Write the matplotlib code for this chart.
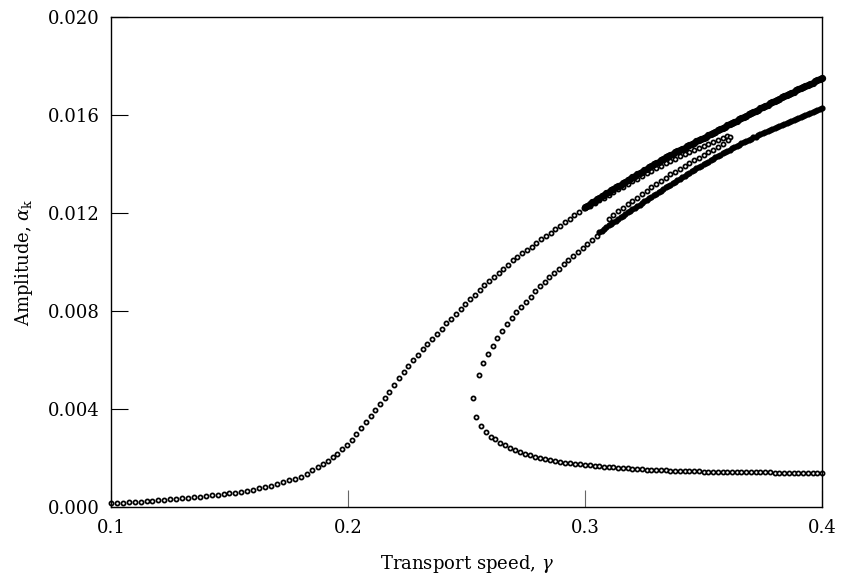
import matplotlib
matplotlib.use("Agg")
import matplotlib.pyplot as plt
from matplotlib.ticker import FixedLocator, FormatStrFormatter

plt.rcParams['font.family'] = ['DejaVu Serif']
plt.rcParams['mathtext.fontset'] = 'dejavuserif'

# ---- data ----
# main (sigmoid) branch, open circles
main_gamma = [0.1000, 0.1025, 0.1050, 0.1075, 0.1100, 0.1125, 0.1150, 0.1175, 0.1200, 0.1225,
              0.1250, 0.1275, 0.1300, 0.1325, 0.1350, 0.1375, 0.1400, 0.1425, 0.1450, 0.1475,
              0.1500, 0.1525, 0.1550, 0.1575, 0.1600, 0.1625, 0.1650, 0.1675, 0.1700, 0.1725,
              0.1750, 0.1775, 0.1800, 0.1825, 0.1850, 0.1875, 0.1895, 0.1915, 0.1935, 0.1955,
              0.1975, 0.1995, 0.2015, 0.2035, 0.2055, 0.2075, 0.2095, 0.2115, 0.2135, 0.2155,
              0.2175, 0.2195, 0.2215, 0.2235, 0.2255, 0.2275, 0.2295, 0.2315, 0.2335, 0.2355,
              0.2375, 0.2395, 0.2415, 0.2435, 0.2455, 0.2475, 0.2495, 0.2515, 0.2535, 0.2555,
              0.2575, 0.2595, 0.2615, 0.2635, 0.2655, 0.2675, 0.2695, 0.2715, 0.2735, 0.2755,
              0.2775, 0.2795, 0.2815, 0.2835, 0.2855, 0.2875, 0.2895, 0.2915, 0.2935, 0.2955,
              0.2975, 0.2995]
main_amp = [0.00014, 0.00015, 0.00017, 0.00018, 0.00020, 0.00021, 0.00023, 0.00025, 0.00026, 0.00028,
            0.00030, 0.00032, 0.00034, 0.00036, 0.00038, 0.00040, 0.00043, 0.00046, 0.00049, 0.00052,
            0.00055, 0.00058, 0.00062, 0.00066, 0.00070, 0.00075, 0.00080, 0.00086, 0.00093, 0.00100,
            0.00108, 0.00115, 0.00123, 0.00135, 0.00148, 0.00163, 0.00173, 0.00187, 0.00202, 0.00217,
            0.00234, 0.00254, 0.00274, 0.00297, 0.00320, 0.00345, 0.00370, 0.00395, 0.00420, 0.00445,
            0.00470, 0.00496, 0.00525, 0.00549, 0.00573, 0.00597, 0.00621, 0.00645, 0.00666, 0.00686,
            0.00707, 0.00727, 0.00748, 0.00768, 0.00787, 0.00807, 0.00827, 0.00847, 0.00866, 0.00886,
            0.00903, 0.00920, 0.00937, 0.00954, 0.00971, 0.00988, 0.01005, 0.01020, 0.01034, 0.01048,
            0.01062, 0.01077, 0.01091, 0.01105, 0.01119, 0.01133, 0.01147, 0.01162, 0.01176, 0.01190,
            0.01204, 0.01218]

# upper dense band (0.300 .. 0.400)
upper_band_gamma = [0.300, 0.301, 0.302, 0.303, 0.304, 0.305, 0.306, 0.307, 0.308, 0.309,
                    0.310, 0.311, 0.312, 0.313, 0.314, 0.315, 0.316, 0.317, 0.318, 0.319,
                    0.320, 0.321, 0.322, 0.323, 0.324, 0.325, 0.326, 0.327, 0.328, 0.329,
                    0.330, 0.331, 0.332, 0.333, 0.334, 0.335, 0.336, 0.337, 0.338, 0.339,
                    0.340, 0.341, 0.342, 0.343, 0.344, 0.345, 0.346, 0.347, 0.348, 0.349,
                    0.350, 0.351, 0.352, 0.353, 0.354, 0.355, 0.356, 0.357, 0.358, 0.359,
                    0.360, 0.361, 0.362, 0.363, 0.364, 0.365, 0.366, 0.367, 0.368, 0.369,
                    0.370, 0.371, 0.372, 0.373, 0.374, 0.375, 0.376, 0.377, 0.378, 0.379,
                    0.380, 0.381, 0.382, 0.383, 0.384, 0.385, 0.386, 0.387, 0.388, 0.389,
                    0.390, 0.391, 0.392, 0.393, 0.394, 0.395, 0.396, 0.397, 0.398, 0.399,
                    0.400]
upper_band_amp = [0.01222, 0.01229, 0.01235, 0.01242, 0.01248, 0.01255, 0.01261, 0.01267, 0.01273, 0.01279,
                  0.01285, 0.01291, 0.01297, 0.01303, 0.01309, 0.01315, 0.01321, 0.01327, 0.01332, 0.01338,
                  0.01344, 0.01350, 0.01356, 0.01362, 0.01368, 0.01374, 0.01380, 0.01385, 0.01391, 0.01397,
                  0.01403, 0.01409, 0.01415, 0.01420, 0.01426, 0.01431, 0.01436, 0.01441, 0.01446, 0.01451,
                  0.01456, 0.01461, 0.01466, 0.01471, 0.01476, 0.01481, 0.01486, 0.01491, 0.01496, 0.01501,
                  0.01506, 0.01511, 0.01516, 0.01521, 0.01526, 0.01531, 0.01536, 0.01541, 0.01546, 0.01551,
                  0.01556, 0.01561, 0.01566, 0.01571, 0.01576, 0.01581, 0.01586, 0.01591, 0.01596, 0.01601,
                  0.01606, 0.01611, 0.01616, 0.01621, 0.01626, 0.01631, 0.01636, 0.01641, 0.01646, 0.01651,
                  0.01656, 0.01661, 0.01666, 0.01671, 0.01676, 0.01681, 0.01685, 0.01690, 0.01694, 0.01699,
                  0.01704, 0.01708, 0.01713, 0.01718, 0.01722, 0.01727, 0.01731, 0.01736, 0.01741, 0.01745,
                  0.01750]

# narrow loop ending near gamma = 0.36 (open circles)
loop_gamma = [0.300, 0.302, 0.304, 0.306, 0.308, 0.310, 0.312, 0.314, 0.316, 0.318,
              0.320, 0.322, 0.324, 0.326, 0.328, 0.330, 0.332, 0.334, 0.336, 0.338,
              0.340, 0.342, 0.344, 0.346, 0.348, 0.350, 0.352, 0.354, 0.356, 0.358,
              0.360, 0.3612, 0.3605, 0.358, 0.356, 0.354, 0.352, 0.350, 0.348, 0.346,
              0.344, 0.342, 0.340, 0.338, 0.336, 0.334, 0.332, 0.330, 0.328, 0.326,
              0.324, 0.322, 0.320, 0.318, 0.316, 0.314, 0.312, 0.310]
loop_amp = [0.01218, 0.01229, 0.01240, 0.01251, 0.01262, 0.01273, 0.01284, 0.01295, 0.01306, 0.01317,
            0.01328, 0.01339, 0.01350, 0.01361, 0.01371, 0.01382, 0.01392, 0.01402, 0.01412, 0.01421,
            0.01430, 0.01439, 0.01448, 0.01457, 0.01466, 0.01474, 0.01482, 0.01490, 0.01498, 0.01506,
            0.01514, 0.01510, 0.01497, 0.01482, 0.01470, 0.01458, 0.01447, 0.01436, 0.01425, 0.01414,
            0.01403, 0.01392, 0.01380, 0.01368, 0.01356, 0.01343, 0.01330, 0.01317, 0.01304, 0.01290,
            0.01276, 0.01262, 0.01248, 0.01234, 0.01220, 0.01205, 0.01190, 0.01175]

# fold: lower branch from the turning point to gamma = 0.4
fold_low_gamma = [0.2529, 0.2540, 0.2560, 0.2581, 0.2602, 0.2620, 0.2641, 0.2662, 0.2684, 0.2705,
                  0.2726, 0.2747, 0.2768, 0.2789, 0.2810, 0.2831, 0.2852, 0.2873, 0.2894, 0.2915,
                  0.2936, 0.2957, 0.2978, 0.2999, 0.302, 0.304, 0.306, 0.308, 0.310, 0.312,
                  0.314, 0.316, 0.318, 0.320, 0.322, 0.324, 0.326, 0.328, 0.330, 0.332,
                  0.334, 0.336, 0.338, 0.340, 0.342, 0.344, 0.346, 0.348, 0.350, 0.352,
                  0.354, 0.356, 0.358, 0.360, 0.362, 0.364, 0.366, 0.368, 0.370, 0.372,
                  0.374, 0.376, 0.378, 0.380, 0.382, 0.384, 0.386, 0.388, 0.390, 0.392,
                  0.394, 0.396, 0.398, 0.400]
fold_low_amp = [0.00445, 0.00368, 0.00330, 0.00304, 0.00286, 0.00275, 0.00261, 0.00252, 0.00241, 0.00232,
                0.00223, 0.00216, 0.00210, 0.00204, 0.00199, 0.00194, 0.00190, 0.00186, 0.00183, 0.00180,
                0.00177, 0.00175, 0.00173, 0.00171, 0.00169, 0.00167, 0.00165, 0.00164, 0.00162, 0.00161,
                0.00159, 0.00158, 0.00157, 0.00155, 0.00154, 0.00153, 0.00152, 0.00151, 0.00150, 0.00149,
                0.00148, 0.00147, 0.00147, 0.00146, 0.00145, 0.00145, 0.00144, 0.00144, 0.00143, 0.00143,
                0.00143, 0.00142, 0.00142, 0.00142, 0.00141, 0.00141, 0.00141, 0.00141, 0.00140, 0.00140,
                0.00140, 0.00140, 0.00140, 0.00139, 0.00139, 0.00139, 0.00139, 0.00139, 0.00139, 0.00138,
                0.00138, 0.00138, 0.00138, 0.00138]

# fold: upper branch from the turning point (open circles)
fold_up_gamma = [0.2551, 0.2571, 0.2592, 0.2610, 0.2630, 0.2651, 0.2670, 0.2691, 0.2710, 0.2730,
                 0.2750, 0.2770, 0.2790, 0.2810, 0.2830, 0.2850, 0.2870, 0.2890, 0.2910, 0.2930,
                 0.2950, 0.2970, 0.2990, 0.3010, 0.3030, 0.3050]
fold_up_amp = [0.00539, 0.00587, 0.00624, 0.00658, 0.00689, 0.00718, 0.00747, 0.00770, 0.00793, 0.00815,
               0.00837, 0.00858, 0.00879, 0.00899, 0.00918, 0.00936, 0.00954, 0.00972, 0.00989, 0.01006,
               0.01023, 0.01039, 0.01055, 0.01071, 0.01087, 0.01103]

# lower dense band (0.306 .. 0.400)
lower_band_gamma = [0.306, 0.307, 0.308, 0.309, 0.310, 0.311, 0.312, 0.313, 0.314, 0.315,
                    0.316, 0.317, 0.318, 0.319, 0.320, 0.321, 0.322, 0.323, 0.324, 0.325,
                    0.326, 0.327, 0.328, 0.329, 0.330, 0.331, 0.332, 0.333, 0.334, 0.335,
                    0.336, 0.337, 0.338, 0.339, 0.340, 0.341, 0.342, 0.343, 0.344, 0.345,
                    0.346, 0.347, 0.348, 0.349, 0.350, 0.351, 0.352, 0.353, 0.354, 0.355,
                    0.356, 0.357, 0.358, 0.359, 0.360, 0.361, 0.362, 0.363, 0.364, 0.365,
                    0.366, 0.367, 0.368, 0.369, 0.370, 0.371, 0.372, 0.373, 0.374, 0.375,
                    0.376, 0.377, 0.378, 0.379, 0.380, 0.381, 0.382, 0.383, 0.384, 0.385,
                    0.386, 0.387, 0.388, 0.389, 0.390, 0.391, 0.392, 0.393, 0.394, 0.395,
                    0.396, 0.397, 0.398, 0.399, 0.400]
lower_band_amp = [0.01120, 0.01127, 0.01134, 0.01141, 0.01148, 0.01155, 0.01162, 0.01168, 0.01175, 0.01181,
                  0.01188, 0.01194, 0.01201, 0.01207, 0.01214, 0.01220, 0.01227, 0.01233, 0.01240, 0.01246,
                  0.01252, 0.01259, 0.01265, 0.01271, 0.01278, 0.01284, 0.01290, 0.01296, 0.01303, 0.01309,
                  0.01315, 0.01321, 0.01327, 0.01333, 0.01339, 0.01345, 0.01351, 0.01357, 0.01363, 0.01369,
                  0.01375, 0.01381, 0.01387, 0.01392, 0.01398, 0.01404, 0.01409, 0.01415, 0.01420, 0.01426,
                  0.01431, 0.01437, 0.01442, 0.01447, 0.01453, 0.01458, 0.01463, 0.01468, 0.01473, 0.01478,
                  0.01483, 0.01488, 0.01493, 0.01497, 0.01502, 0.01507, 0.01511, 0.01516, 0.01520, 0.01525,
                  0.01529, 0.01534, 0.01538, 0.01542, 0.01547, 0.01551, 0.01555, 0.01559, 0.01563, 0.01567,
                  0.01571, 0.01575, 0.01580, 0.01584, 0.01588, 0.01592, 0.01596, 0.01600, 0.01604, 0.01608,
                  0.01612, 0.01616, 0.01620, 0.01624, 0.01628]

x_ticks = [0.1, 0.2, 0.3, 0.4]
y_ticks = [0.000, 0.004, 0.008, 0.012, 0.016, 0.020]

# ---- figure ----
fig = plt.figure(figsize=(8.44, 5.80), dpi=100)
ax = fig.add_axes([0.1315, 0.1263, 0.8425, 0.8449])

open_mk = dict(linestyle='none', marker='o', markersize=3.0, markeredgewidth=1.25,
               markeredgecolor='black', markerfacecolor='white', clip_on=False)
upper_mk = dict(linestyle='none', marker='o', markersize=4.0, markeredgewidth=1.25,
                markeredgecolor='black', markerfacecolor='black', clip_on=False)
lower_mk = dict(linestyle='none', marker='o', markersize=3.2, markeredgewidth=1.25,
                markeredgecolor='black', markerfacecolor='black', clip_on=False)

ax.plot(main_gamma, main_amp, **open_mk)
ax.plot(fold_low_gamma, fold_low_amp, **open_mk)
ax.plot(fold_up_gamma, fold_up_amp, **open_mk)
ax.plot(loop_gamma, loop_amp, **open_mk)
ax.plot(upper_band_gamma, upper_band_amp, **upper_mk)
ax.plot(lower_band_gamma, lower_band_amp, **lower_mk)

ax.set_xlim(0.1, 0.4)
ax.set_ylim(0.0, 0.020)
ax.xaxis.set_major_locator(FixedLocator(x_ticks))
ax.yaxis.set_major_locator(FixedLocator(y_ticks))
ax.xaxis.set_major_formatter(FormatStrFormatter('%.1f'))
ax.yaxis.set_major_formatter(FormatStrFormatter('%.3f'))

ax.tick_params(axis='x', direction='in', length=12, width=0.8, color='#666666',
               labelsize=13, pad=9, top=False)
ax.tick_params(axis='y', direction='in', length=12, width=0.8, color='black',
               labelsize=13, pad=8, right=False)
for s in ax.spines.values():
    s.set_linewidth(1.0)

ax.set_xlabel(r'Transport speed, $\gamma$', fontsize=13, labelpad=11)
ax.set_ylabel(r'Amplitude, $\alpha_{\mathrm{k}}$', fontsize=13, labelpad=9)

fig.savefig('out.png', dpi=100)
